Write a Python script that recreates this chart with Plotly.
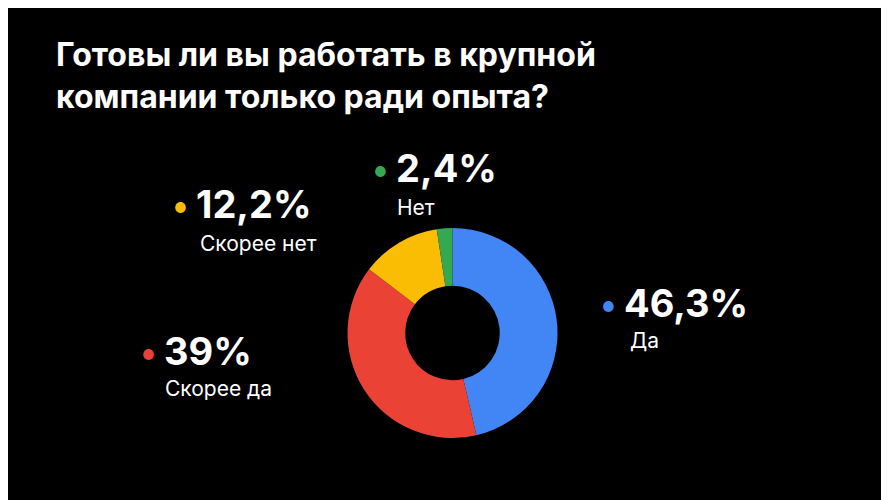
import plotly.graph_objects as go

labels = ["Да", "Скорее да", "Скорее нет", "Нет"]
values = [46.3, 39, 12.2, 2.4]
pct_text = ["46,3%", "39%", "12,2%", "2,4%"]
colors = ["#4285F4", "#EA4335", "#FBBC04", "#34A853"]
# (dot x px, pct y px, label x px, label y px)
pos = [(600, 295, 620, 332), (140, 343, 155, 380), (172, 196, 190, 235), (372, 160, 387, 199)]

fig = go.Figure(go.Pie(
    labels=labels, values=values, hole=0.45, sort=False, direction="clockwise",
    rotation=0, marker=dict(colors=colors, line=dict(width=0)),
    textinfo="none", hoverinfo="label+percent", showlegend=False,
    domain=dict(x=[0.34, 0.66], y=[0.14, 0.56])))

F = "Inter, Roboto, sans-serif"
for (dx, py, lx, ly), t, l, c in zip(pos, pct_text, labels, colors):
    fig.add_annotation(x=dx / 889, y=1 - (py + 3) / 500, xref="paper", yref="paper",
        xanchor="center", yanchor="middle", showarrow=False, text="●",
        font=dict(family=F, size=14, color=c))
    fig.add_annotation(x=(dx + 14) / 889, y=1 - py / 500, xref="paper", yref="paper",
        xanchor="left", yanchor="middle", showarrow=False, text=f"<b>{t}</b>",
        font=dict(family=F, size=38, color="white"))
    fig.add_annotation(x=lx / 889, y=1 - ly / 500, xref="paper", yref="paper", xanchor="left",
        yanchor="middle", showarrow=False, text=l,
        font=dict(family=F, size=21, color="white"))

fig.add_annotation(x=46 / 889, y=0.95, xref="paper", yref="paper", xanchor="left", yanchor="top",
    showarrow=False, align="left",
    text="<b>Готовы ли вы работать в крупной<br>компании только ради опыта?</b>",
    font=dict(family=F, size=32, color="white"))

fig.update_layout(width=889, height=500, paper_bgcolor="black", plot_bgcolor="black",
                  margin=dict(l=0, r=0, t=0, b=0))
fig.write_html("out.html")
